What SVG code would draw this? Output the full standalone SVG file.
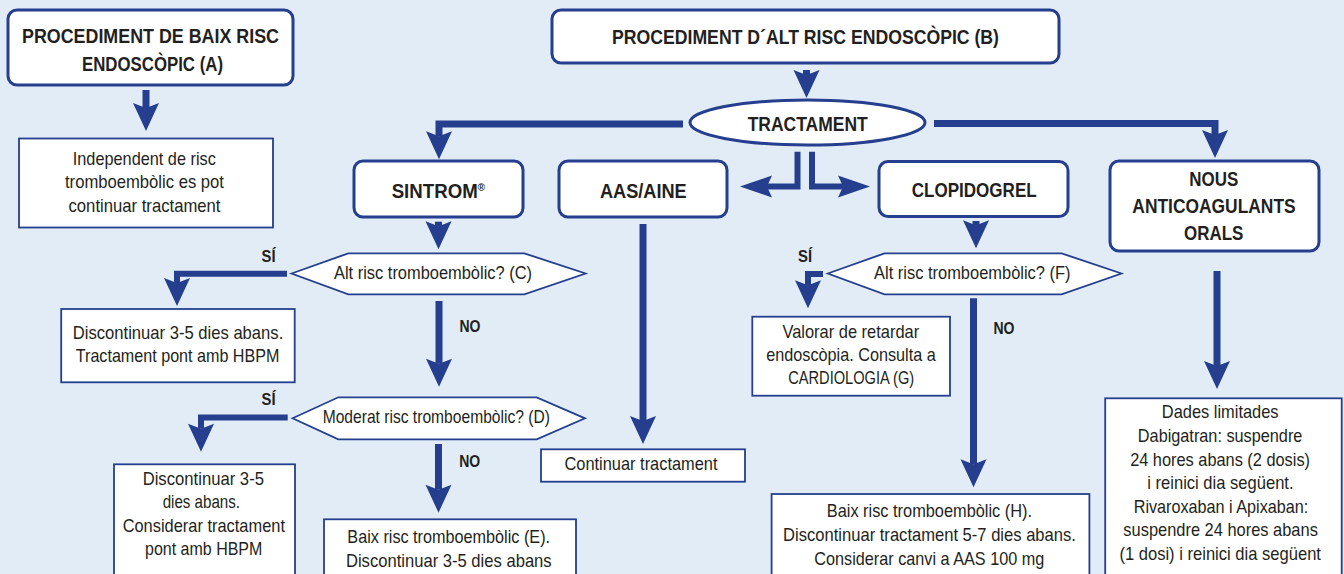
<svg xmlns="http://www.w3.org/2000/svg" width="1344" height="574" viewBox="0 0 1344 574">
<style>
.bg{fill:#E2ECF7}
.rn{fill:#fff;stroke:#253F8E;stroke-width:3}
.bx{fill:#fff;stroke:#253F8E;stroke-width:1.8}
.hx{fill:#fff;stroke:#253F8E;stroke-width:1.8}
.b{font-family:"Liberation Sans",Arial,sans-serif;font-weight:bold;font-size:21px;fill:#231F20;text-anchor:middle}
.lb{font-family:"Liberation Sans",Arial,sans-serif;font-weight:bold;font-size:16.5px;fill:#231F20;text-anchor:middle}
.t{font-family:"Liberation Sans",Arial,sans-serif;font-size:18.5px;fill:#231F20;text-anchor:middle}
.c{fill:none;stroke:#253F8E;stroke-width:7;stroke-linejoin:miter}
.cs{fill:none;stroke:#253F8E;stroke-width:6;stroke-linejoin:miter}
</style>
<defs>
<marker id="ah" markerUnits="userSpaceOnUse" viewBox="-10 -20 40 40" markerWidth="40" markerHeight="40" refX="0" refY="0" orient="auto" overflow="visible">
<path d="M-5,-13 L23,0 L-5,13 L0,0 Z" fill="#253F8E"/>
</marker>
<marker id="ah2" markerUnits="userSpaceOnUse" viewBox="-10 -20 40 40" markerWidth="40" markerHeight="40" refX="0" refY="0" orient="auto" overflow="visible">
<path d="M-9,-11 L23,0 L-9,11 L-4,0 Z" fill="#253F8E"/>
</marker>
</defs>
<rect class="bg" x="0" y="0" width="1344" height="574"/>

<g id="connectors">
<path class="c" d="M146,90 V108" marker-end="url(#ah)"/>
<path class="c" d="M806.5,70 V75" marker-end="url(#ah)"/>
<path class="c" d="M683,124 H439 V136.3" marker-end="url(#ah)"/>
<path class="c" d="M934,123.5 H1215 V135" marker-end="url(#ah)"/>
<path class="cs" d="M797.5,151.7 V186.5 H763" marker-end="url(#ah2)"/>
<path class="cs" d="M812,151.7 V186.5 H847" marker-end="url(#ah2)"/>
<path class="c" d="M438.5,221.7 V226.3" marker-end="url(#ah)"/>
<path class="c" d="M643,224 V421" marker-end="url(#ah)"/>
<path class="c" d="M976,221 V225.3" marker-end="url(#ah)"/>
<path class="c" d="M1217,271 V366" marker-end="url(#ah)"/>
<path class="cs" d="M287,273.8 H177 V283" marker-end="url(#ah)"/>
<path class="c" d="M439,301 V363.7" marker-end="url(#ah)"/>
<path class="cs" d="M287.7,417.5 H201 V428.7" marker-end="url(#ah)"/>
<path class="c" d="M438.5,444 V489.7" marker-end="url(#ah)"/>
<path class="cs" d="M823,274 H808 V285.3" marker-end="url(#ah)"/>
<path class="c" d="M973.5,298.3 V464.3" marker-end="url(#ah)"/>
<text class="lb" x="268.5" y="261.7" textLength="14" lengthAdjust="spacingAndGlyphs">SÍ</text>
<text class="lb" x="470" y="331.7" textLength="21" lengthAdjust="spacingAndGlyphs">NO</text>
<text class="lb" x="268.5" y="405" textLength="14" lengthAdjust="spacingAndGlyphs">SÍ</text>
<text class="lb" x="469.7" y="467.3" textLength="21" lengthAdjust="spacingAndGlyphs">NO</text>
<text class="lb" x="805" y="261.7" textLength="14" lengthAdjust="spacingAndGlyphs">SÍ</text>
<text class="lb" x="1004" y="334.3" textLength="21" lengthAdjust="spacingAndGlyphs">NO</text>
</g>

<g id="nodeA">
<rect class="rn" x="8" y="10" width="285" height="75" rx="9"/>
<text class="b" x="150.5" y="43" textLength="257" lengthAdjust="spacingAndGlyphs">PROCEDIMENT DE BAIX RISC</text>
<text class="b" x="152.5" y="71" textLength="141" lengthAdjust="spacingAndGlyphs">ENDOSCÒPIC (A)</text>
</g>

<g id="nodeB">
<rect class="rn" x="552" y="10" width="507" height="53" rx="9"/>
<text class="b" x="805.5" y="44" textLength="387" lengthAdjust="spacingAndGlyphs">PROCEDIMENT D´ALT RISC ENDOSCÒPIC (B)</text>
</g>

<g id="nodeTractament">
<ellipse class="rn" cx="807.5" cy="122.5" rx="117.5" ry="22.5"/>
<text class="b" x="807.7" y="130.7" textLength="120" lengthAdjust="spacingAndGlyphs">TRACTAMENT</text>
</g>

<g id="nodeIndependent">
<rect class="bx" x="19" y="138.5" width="254" height="89"/>
<text class="t" x="144.3" y="165" textLength="143" lengthAdjust="spacingAndGlyphs">Independent de risc</text>
<text class="t" x="144.5" y="188.3" textLength="159" lengthAdjust="spacingAndGlyphs">tromboembòlic es pot</text>
<text class="t" x="144.5" y="211.7" textLength="152" lengthAdjust="spacingAndGlyphs">continuar tractament</text>
</g>

<g id="nodeSintrom">
<rect class="rn" x="354" y="161" width="169" height="56" rx="9"/>
<text class="b" x="438.3" y="197.7" textLength="93.3" lengthAdjust="spacingAndGlyphs">SINTROM<tspan style="font-size:11px" dy="-7">®</tspan></text>
</g>

<g id="nodeAAS">
<rect class="rn" x="559" y="161" width="168" height="56" rx="9"/>
<text class="b" x="643.3" y="198" textLength="86.7" lengthAdjust="spacingAndGlyphs">AAS/AINE</text>
</g>

<g id="nodeClopidogrel">
<rect class="rn" x="879" y="161.5" width="189" height="55" rx="9"/>
<text class="b" x="974.2" y="197.3" textLength="125" lengthAdjust="spacingAndGlyphs">CLOPIDOGREL</text>
</g>

<g id="nodeNous">
<rect class="rn" x="1110" y="161" width="209" height="90" rx="9"/>
<text class="b" x="1213.8" y="186" textLength="49" lengthAdjust="spacingAndGlyphs">NOUS</text>
<text class="b" x="1214" y="213.3" textLength="163.3" lengthAdjust="spacingAndGlyphs">ANTICOAGULANTS</text>
<text class="b" x="1213.7" y="240" textLength="59.3" lengthAdjust="spacingAndGlyphs">ORALS</text>
</g>

<g id="nodeC">
<polygon class="hx" points="291.6,273.5 348.3,253.3 524.3,253.3 585.5,273.5 524.3,294.3 348.3,294.3"/>
<text class="t" x="433" y="279.3" textLength="198" lengthAdjust="spacingAndGlyphs">Alt risc tromboembòlic? (C)</text>
</g>

<g id="nodeCsi">
<rect class="bx" x="61.2" y="309" width="233.5" height="73.3"/>
<text class="t" x="178" y="339.3" textLength="210.5" lengthAdjust="spacingAndGlyphs">Discontinuar 3-5 dies abans.</text>
<text class="t" x="177.6" y="361.7" textLength="203.6" lengthAdjust="spacingAndGlyphs">Tractament pont amb HBPM</text>
</g>

<g id="nodeD">
<polygon class="hx" points="292.6,418.3 338.3,397.3 536.7,397.3 585,418.3 536.7,439.3 338.3,439.3"/>
<text class="t" x="436.3" y="423.3" textLength="227.3" lengthAdjust="spacingAndGlyphs">Moderat risc tromboembòlic? (D)</text>
</g>

<g id="nodeDsi">
<rect class="bx" x="114" y="464.3" width="181" height="125"/>
<text class="t" x="203.3" y="485" textLength="121.3" lengthAdjust="spacingAndGlyphs">Discontinuar 3-5</text>
<text class="t" x="201.3" y="508.3" textLength="77.3" lengthAdjust="spacingAndGlyphs">dies abans.</text>
<text class="t" x="203.8" y="531.7" textLength="162.3" lengthAdjust="spacingAndGlyphs">Considerar tractament</text>
<text class="t" x="203.7" y="555" textLength="117.3" lengthAdjust="spacingAndGlyphs">pont amb HBPM</text>
</g>

<g id="nodeE">
<rect class="bx" x="324" y="519.3" width="252" height="70"/>
<text class="t" x="448.7" y="543.3" textLength="202.7" lengthAdjust="spacingAndGlyphs">Baix risc tromboembòlic (E).</text>
<text class="t" x="448.8" y="566.7" textLength="205.7" lengthAdjust="spacingAndGlyphs">Discontinuar 3-5 dies abans</text>
</g>

<g id="nodeContinuar">
<rect class="bx" x="541" y="449.3" width="204" height="32.4"/>
<text class="t" x="641" y="470" textLength="153" lengthAdjust="spacingAndGlyphs">Continuar tractament</text>
</g>

<g id="nodeF">
<polygon class="hx" points="827.8,273.5 884.5,253.3 1061.6,253.3 1121.4,273.5 1061.6,294.3 884.5,294.3"/>
<text class="t" x="972.3" y="278.7" textLength="196.5" lengthAdjust="spacingAndGlyphs">Alt risc tromboembòlic? (F)</text>
</g>

<g id="nodeG">
<rect class="bx" x="752.3" y="316.7" width="197.7" height="79"/>
<text class="t" x="850.8" y="338.3" textLength="136.7" lengthAdjust="spacingAndGlyphs">Valorar de retardar</text>
<text class="t" x="851" y="361" textLength="169.5" lengthAdjust="spacingAndGlyphs">endoscòpia. Consulta a</text>
<text class="t" x="851.2" y="384.3" textLength="126" lengthAdjust="spacingAndGlyphs">CARDIOLOGIA (G)</text>
</g>

<g id="nodeH">
<rect class="bx" x="771.6" y="494" width="317.8" height="95"/>
<text class="t" x="929.4" y="517.3" textLength="205.3" lengthAdjust="spacingAndGlyphs">Baix risc tromboembòlic (H).</text>
<text class="t" x="929.5" y="541" textLength="292.8" lengthAdjust="spacingAndGlyphs">Discontinuar tractament 5-7 dies abans.</text>
<text class="t" x="929.3" y="565" textLength="230" lengthAdjust="spacingAndGlyphs">Considerar canvi a AAS 100 mg</text>
</g>

<g id="nodeDades">
<rect class="bx" x="1105.2" y="398.3" width="236.5" height="190"/>
<text class="t" x="1220.2" y="418.3" textLength="116.7" lengthAdjust="spacingAndGlyphs">Dades limitades</text>
<text class="t" x="1220.1" y="441.7" textLength="164.5" lengthAdjust="spacingAndGlyphs">Dabigatran: suspendre</text>
<text class="t" x="1220.1" y="465.7" textLength="179.9" lengthAdjust="spacingAndGlyphs">24 hores abans (2 dosis)</text>
<text class="t" x="1220.4" y="489.3" textLength="146.3" lengthAdjust="spacingAndGlyphs">i reinici dia següent.</text>
<text class="t" x="1221" y="513.3" textLength="174.5" lengthAdjust="spacingAndGlyphs">Rivaroxaban i Apixaban:</text>
<text class="t" x="1220.6" y="536" textLength="194.5" lengthAdjust="spacingAndGlyphs">suspendre 24 hores abans</text>
<text class="t" x="1220.2" y="560" textLength="201.5" lengthAdjust="spacingAndGlyphs">(1 dosi) i reinici dia següent</text>
</g>
</svg>
